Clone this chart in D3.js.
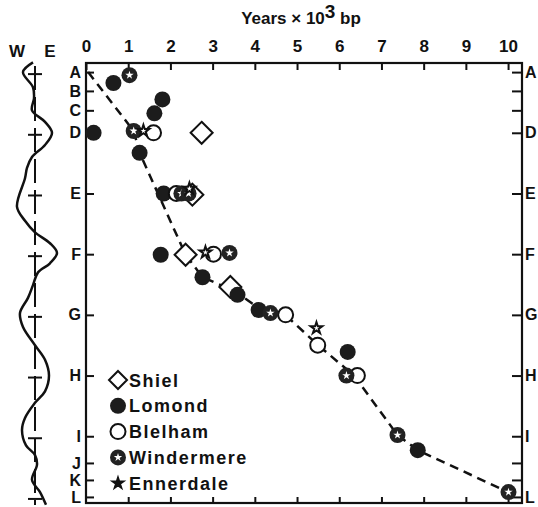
<!DOCTYPE html>
<html>
<head>
<meta charset="utf-8">
<script src="https://cdn.jsdelivr.net/npm/d3@7"></script>
<style>
  body { margin: 0; background: #fff; }
  svg { display: block; }
  text { font-family: "Liberation Sans", Arial, sans-serif; font-weight: bold; fill: #111; }
</style>
</head>
<body>
<svg width="538" height="507"></svg>
<script>
// zone letters and their position on the zone index scale
const zoneLetters = ['A', 'B', 'C', 'D', 'E', 'F', 'G', 'H', 'I', 'J', 'K', 'L'];
const zonePos = [0, 0.31, 0.63, 1, 2, 3, 4, 5, 6, 6.44, 6.72, 7];
const rightLabelled = ['A', 'D', 'E', 'F', 'G', 'H', 'I', 'L'];
const ageTicks = [0, 1, 2, 3, 4, 5, 6, 7, 8, 9, 10];

// radiocarbon dates (years x 10^3 bp) against zone position
const shielAge = [2.74, 2.52, 2.36, 3.42];
const shielZone = [1.0, 2.02, 3.01, 3.54];
const lomondAge = [0.65, 1.81, 1.62, 0.18, 1.27, 1.84, 1.77, 2.76, 3.59, 4.09, 6.2, 7.86];
const lomondZone = [0.18, 0.45, 0.68, 1.0, 1.33, 2.0, 3.01, 3.38, 3.67, 3.92, 4.61, 6.23];
const blelhamAge = [1.6, 2.14, 3.02, 4.73, 5.49, 6.43];
const blelhamZone = [1.0, 2.0, 3.0, 4.0, 4.5, 5.0];
const windermereAge = [1.03, 1.13, 2.26, 2.43, 3.4, 4.37, 6.17, 7.38, 10.01];
const windermereZone = [0.05, 0.97, 2.0, 2.0, 2.98, 3.97, 5.0, 5.98, 6.92];
const ennerdaleAge = [1.36, 2.45, 2.83, 5.46];
const ennerdaleZone = [0.97, 1.92, 2.97, 4.22];

// dashed age/zone curve
const curveAge = [0.05, 1.13, 1.27, 2.36, 2.76, 3.5, 4.2, 4.8, 5.5, 6.35, 7.38, 7.86, 10.0];
const curveZone = [0, 0.97, 1.33, 3.01, 3.38, 3.6, 3.94, 4.05, 4.5, 5.0, 5.98, 6.23, 6.92];

// declination record (W negative, E positive)
const declValue = [-2, -12, -2, -1, -3, 10, 17, 10, -3, -8, -10, -18, -10, 0, 15, 22, 15, 3, -2, -7, -15, -12, 0, 10, 14, 10, 0, -10, -13, -9, 0, 2, -3, 5, 11];
const declZone = [-0.16, 0.0, 0.25, 0.43, 0.63, 0.82, 1.0, 1.2, 1.4, 1.58, 1.75, 2.22, 2.45, 2.64, 2.82, 2.98, 3.15, 3.3, 3.51, 3.72, 3.97, 4.2, 4.5, 4.74, 5.0, 5.26, 5.45, 5.7, 5.9, 6.15, 6.31, 6.47, 6.72, 6.92, 7.13];
const declCrosses = [0, 1, 2, 3, 4, 5, 6, 7];

const svg = d3.select('svg');

const xScale = d3.scaleLinear().domain([0, 10.33]).range([86, 522]);
const yScale = d3.scaleLinear().domain([-0.15, 7.1]).range([63, 503]);
const declScale = d3.scaleLinear().domain([-30, 30]).range([5, 65]);

// frame
const [x0, x1] = xScale.range();
const [y0, y1] = yScale.range();
svg.append('rect')
    .attr('x', x0).attr('y', y0)
    .attr('width', x1 - x0).attr('height', y1 - y0)
    .attr('fill', 'none').attr('stroke', '#111').attr('stroke-width', 2.2);

// top axis
svg.append('g')
    .attr('transform', `translate(0,${y0})`)
    .call(d3.axisTop(xScale).tickValues(ageTicks).tickSize(-7).tickPadding(11).tickFormat(d3.format('d')))
    .call(g => g.select('.domain').remove())
    .call(g => g.selectAll('line').attr('stroke', '#111').attr('stroke-width', 2))
    .call(g => g.selectAll('text').attr('font-size', 17).attr('font-family', null).attr('fill', '#111'));

// bottom axis ticks
svg.append('g')
    .attr('transform', `translate(0,${y1})`)
    .call(d3.axisBottom(xScale).tickValues(ageTicks.slice(1)).tickSize(-6).tickFormat(''))
    .call(g => g.select('.domain').remove())
    .call(g => g.selectAll('line').attr('stroke', '#111').attr('stroke-width', 2));

// left zone axis
svg.append('g')
    .attr('transform', `translate(${x0},0)`)
    .call(d3.axisLeft(yScale).tickValues(zonePos).tickSize(-8).tickPadding(5)
        .tickFormat((d, i) => zoneLetters[i]))
    .call(g => g.select('.domain').remove())
    .call(g => g.selectAll('line').attr('stroke', '#111').attr('stroke-width', 2))
    .call(g => g.selectAll('text').attr('font-size', 16).attr('font-family', null).attr('fill', '#111'));

// right zone axis
svg.append('g')
    .attr('transform', `translate(${x1},0)`)
    .call(d3.axisRight(yScale).tickValues(zonePos).tickSize(-10).tickPadding(3)
        .tickFormat((d, i) => rightLabelled.includes(zoneLetters[i]) ? zoneLetters[i] : ''))
    .call(g => g.select('.domain').remove())
    .call(g => g.selectAll('line').attr('stroke', '#111').attr('stroke-width', 2))
    .call(g => g.selectAll('text').attr('font-size', 16).attr('font-family', null).attr('fill', '#111'));

// title
const title = svg.append('text')
    .attr('x', 301).attr('y', 24)
    .attr('text-anchor', 'middle')
    .attr('font-size', 17);
title.append('tspan').text('Years \u00d7 10');
title.append('tspan').attr('dy', -6).attr('font-size', 19).text('3');
title.append('tspan').attr('dy', 6).text(' bp');

// declination column
svg.append('text').attr('x', 17).attr('y', 57).attr('text-anchor', 'middle').attr('font-size', 17).text('W');
svg.append('text').attr('x', 50).attr('y', 57).attr('text-anchor', 'middle').attr('font-size', 17).text('E');

svg.append('line')
    .attr('x1', declScale(0)).attr('x2', declScale(0))
    .attr('y1', yScale(-0.1)).attr('y2', y1 + 2)
    .attr('stroke', '#111').attr('stroke-width', 2)
    .attr('stroke-dasharray', '24,7');

svg.selectAll('.cross')
    .data(declCrosses)
    .enter()
    .append('line')
    .attr('x1', declScale(-7)).attr('x2', declScale(7))
    .attr('y1', d => yScale(d) + 2).attr('y2', d => yScale(d) + 2)
    .attr('stroke', '#111').attr('stroke-width', 2);

const declLine = d3.line()
    .x(i => declScale(declValue[i]))
    .y(i => yScale(declZone[i]))
    .curve(d3.curveCatmullRom);
svg.append('path')
    .attr('d', declLine(d3.range(declValue.length)))
    .attr('fill', 'none').attr('stroke', '#111').attr('stroke-width', 2.5);

// dashed curve
const ageLine = d3.line()
    .x(i => xScale(curveAge[i]))
    .y(i => yScale(curveZone[i]));
svg.append('path')
    .attr('d', ageLine(d3.range(curveAge.length)))
    .attr('fill', 'none').attr('stroke', '#111').attr('stroke-width', 2.5)
    .attr('stroke-dasharray', '9,6');

// marker drawing
const starPath = (r) => d3.symbol(d3.symbolStar, r)();
const diamond = (g) => g.append('path')
    .attr('d', 'M0,-11L11,0L0,11L-11,0Z')
    .attr('fill', '#fff').attr('stroke', '#111').attr('stroke-width', 2);
const lomond = (g) => g.append('circle').attr('r', 8).attr('fill', '#1c1c1c');
const blelham = (g) => g.append('circle').attr('r', 7.5).attr('fill', '#fff').attr('stroke', '#111').attr('stroke-width', 2);
const windermere = (g) => {
    g.append('circle').attr('r', 8).attr('fill', '#222');
    g.append('path').attr('d', starPath(22)).attr('fill', '#fff');
};
const ennerdale = (g) => g.append('path').attr('d', starPath(42))
    .attr('fill', '#fff').attr('stroke', '#111').attr('stroke-width', 2);

const drawSeries = (ages, zones, draw) => {
    ages.forEach((a, i) => {
        const g = svg.append('g').attr('transform', `translate(${xScale(a)},${yScale(zones[i])})`);
        draw(g);
    });
};

drawSeries(shielAge, shielZone, diamond);
drawSeries(lomondAge, lomondZone, lomond);
drawSeries(blelhamAge, blelhamZone, blelham);
drawSeries(windermereAge, windermereZone, windermere);
drawSeries(ennerdaleAge, ennerdaleZone, ennerdale);

// legend
const legendNames = ['Shiel', 'Lomond', 'Blelham', 'Windermere', 'Ennerdale'];
legendNames.forEach((name, i) => {
    const ly = 380 + i * 25.8;
    const g = svg.append('g').attr('transform', `translate(118,${ly})`);
    if (name === 'Shiel') {
        g.append('path').attr('d', 'M0,-9L9,0L0,9L-9,0Z')
            .attr('fill', '#fff').attr('stroke', '#111').attr('stroke-width', 2);
    } else if (name === 'Lomond') {
        lomond(g);
    } else if (name === 'Blelham') {
        blelham(g);
    } else if (name === 'Windermere') {
        windermere(g);
    } else {
        g.append('path').attr('d', starPath(45))
            .attr('fill', '#111').attr('stroke', '#111').attr('stroke-width', 1.5);
    }
    svg.append('text')
        .attr('x', 129).attr('y', ly + 6.5)
        .attr('font-size', 18)
        .attr('letter-spacing', 1.5)
        .text(name);
});
</script>
</body>
</html>
